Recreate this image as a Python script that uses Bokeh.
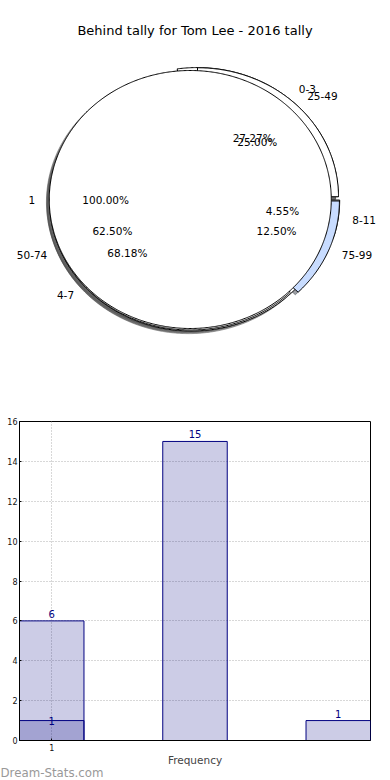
import numpy as np
from bokeh.plotting import figure
from bokeh.models import Range1d, Label, FixedTicker, Title
from bokeh.core.properties import value
from bokeh.embed import file_html
from bokeh.resources import INLINE

# ---------------- data ----------------
title_text = "Behind tally for Tom Lee - 2016 tally"

# pie rings, in drawing order (last one on top)
ring_a_labels = ["0-3", "4-7", "8-11"]
ring_a_values = [6, 15, 1]
ring_a_colors = ["#ffffff", "#ffffff", "#ffffff"]

ring_b_labels = ["25-49", "50-74", "75-99"]
ring_b_values = [2, 5, 1]
ring_b_colors = ["#ffffff", "#ffffff", "#c8dcff"]

ring_c_labels = ["1"]
ring_c_values = [1]
ring_c_colors = ["#ffffff"]

# histogram
bar_bins = [1, 2, 3]
bar_counts = [6, 15, 1]
inner_bins = [1]
inner_counts = [1]
x_tick_values = [1]
y_tick_values = [0, 2, 4, 6, 8, 10, 12, 14, 16]

FONT = value("DejaVu Sans")
EXPLODE = 0.03
SHADOW_OFF = 0.02
LABEL_DIST = 1.1
PCT_DIST = 0.6


def ring_geometry(values, colors, labels):
    total = float(sum(values))
    start = 0.0
    wedges, shadows, lab, pct = [], [], [], []
    for v, c, l in zip(values, colors, labels):
        frac = v / total
        t1, t2 = start, start + 360.0 * frac
        mid = np.radians((t1 + t2) / 2.0)
        cx, cy = EXPLODE * np.cos(mid), EXPLODE * np.sin(mid)
        n = max(int(abs(t2 - t1) * 2), 6)
        ts = np.radians(np.linspace(t1, t2, n))
        xs, ys = cx + np.cos(ts), cy + np.sin(ts)
        if frac < 0.99999:
            xs = np.concatenate([[cx], xs])
            ys = np.concatenate([[cy], ys])
        rgb = [int(c[i:i + 2], 16) for i in (1, 3, 5)]
        shade = "#%02x%02x%02x" % tuple(int(0.3 * k) for k in rgb)
        wedges.append((list(xs), list(ys), c))
        shadows.append((list(xs - SHADOW_OFF), list(ys - SHADOW_OFF), shade))
        lx, ly = cx + LABEL_DIST * np.cos(mid), cy + LABEL_DIST * np.sin(mid)
        lab.append((lx, ly, l, "left" if lx > 0 else "right"))
        pct.append((cx + PCT_DIST * np.cos(mid), cy + PCT_DIST * np.sin(mid), "%.2f%%" % (100 * frac)))
        start = t2
    return wedges, shadows, lab, pct


rings = [ring_geometry(ring_a_values, ring_a_colors, ring_a_labels),
         ring_geometry(ring_b_values, ring_b_colors, ring_b_labels),
         ring_geometry(ring_c_values, ring_c_colors, ring_c_labels)]

# ---------------- pie figure ----------------
PW, PH = 390, 396
SX, SY = 141.0, 129.0      # pixels per unit radius
CX, CY = 194.0, 199.0      # pie centre in canvas pixels (from left / top)
pie = figure(width=PW, height=PH, output_backend="svg", toolbar_location=None,
             x_range=Range1d(-CX / SX, (PW - CX) / SX),
             y_range=Range1d(-(PH - CY) / SY, CY / SY),
             x_axis_location=None, y_axis_location=None,
             min_border=0, outline_line_color=None)
pie.grid.visible = False

all_shadows = [s for r in rings for s in r[1]]
pie.patches(xs=[s[0] for s in all_shadows], ys=[s[1] for s in all_shadows],
            fill_color=[s[2] for s in all_shadows], fill_alpha=0.5,
            line_color=[s[2] for s in all_shadows], line_alpha=0.5, line_width=1)
for r in rings:
    w = r[0]
    pie.patches(xs=[s[0] for s in w], ys=[s[1] for s in w],
                fill_color=[s[2] for s in w], line_color="black", line_width=1)

labels = [t for r in rings for t in r[2]]
pcts = [t for r in rings for t in r[3]]
for align in ("left", "right"):
    sel = [t for t in labels if t[3] == align]
    if sel:
        pie.text(x=[t[0] for t in sel], y=[t[1] for t in sel], text=[t[2] for t in sel],
                 text_align=align, text_baseline="middle", text_font=FONT,
                 text_font_size="10.5px", text_color="black")
pie.text(x=[t[0] for t in pcts], y=[t[1] for t in pcts], text=[t[2] for t in pcts],
         text_align="center", text_baseline="middle", text_font=FONT,
         text_font_size="10.5px", text_color="black")
pie.add_layout(Label(x=194.5, y=PH - 30, x_units="screen", y_units="screen",
                     text=title_text, text_align="center", text_baseline="middle",
                     text_font="DejaVu Sans", text_font_size="13px", text_color="black"))

# ---------------- histogram figure ----------------
BW, BH = 390, 384
bar_w = 0.45
bars = figure(width=BW, height=BH, output_backend="svg", toolbar_location=None,
              x_range=Range1d(min(bar_bins) - bar_w / 2, max(bar_bins) + bar_w / 2),
              y_range=Range1d(0, 16),
              min_border_top=25, min_border_right=20, min_border_left=19, min_border_bottom=40,
              outline_line_color="black", outline_line_width=1)
bars.vbar(x=bar_bins, top=bar_counts, width=bar_w, fill_color="navy", fill_alpha=0.2,
          line_color="navy", line_width=1)
bars.vbar(x=inner_bins, top=inner_counts, width=bar_w, fill_color="navy", fill_alpha=0.2,
          line_color="navy", line_width=1)
bars.text(x=bar_bins, y=bar_counts, text=[str(c) for c in bar_counts], text_align="center",
          text_baseline="bottom", y_offset=-3, text_font=FONT, text_font_size="10px",
          text_color="navy")
bars.text(x=inner_bins, y=inner_counts, text=[str(c) for c in inner_counts], text_align="center",
          text_baseline="middle", text_font=FONT, text_font_size="10px", text_color="navy")

bars.xaxis.ticker = FixedTicker(ticks=x_tick_values)
bars.yaxis.ticker = FixedTicker(ticks=y_tick_values)
for ax in (bars.xaxis[0], bars.yaxis[0]):
    ax.major_label_text_font = "DejaVu Sans"
    ax.major_label_text_font_size = "8px"
    ax.major_label_text_color = "#111111"
    ax.major_tick_in = 2
    ax.major_tick_out = 0
    ax.minor_tick_in = 0
    ax.minor_tick_out = 0
    ax.axis_line_color = "black"
    ax.major_label_standoff = 3
bars.yaxis.major_label_standoff = 2
bars.xaxis.axis_label = "Frequency"
bars.xaxis.axis_label_text_font = "DejaVu Sans"
bars.xaxis.axis_label_text_font_size = "10.5px"
bars.xaxis.axis_label_text_font_style = "normal"
bars.xaxis.axis_label_standoff = 0
bars.grid.grid_line_color = "#b0b0b0"
bars.grid.grid_line_dash = "1 2"
bars.grid.grid_line_width = 1

bars.add_layout(Title(text="Dream-Stats.com", align="left", vertical_align="top",
                      offset=-19, standoff=-6,
                      text_font="DejaVu Sans", text_font_size="11.8px",
                      text_font_style="normal", text_color="#999999"), "below")

open("out.html", "w").write(file_html([pie, bars], INLINE))
